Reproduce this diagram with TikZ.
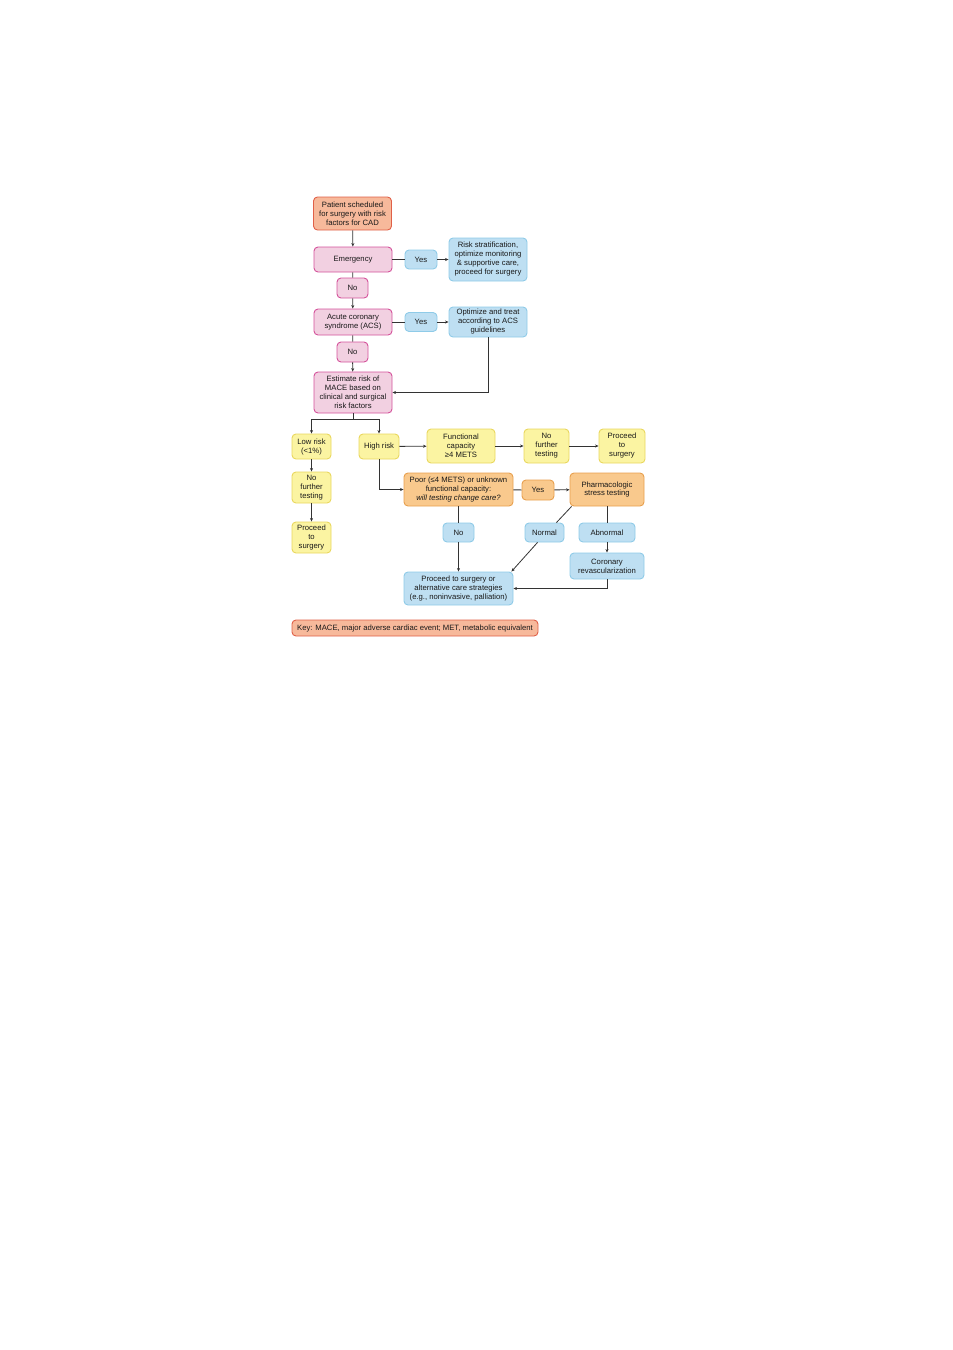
\documentclass[tikz,border=0pt]{standalone}
\usepackage{fontspec}
\setmainfont{Liberation Sans}
\usepackage{tikz}
\usetikzlibrary{arrows.meta,calc}
\definecolor{salmonfill}{HTML}{F7B99B}
\definecolor{salmonline}{HTML}{E06048}
\definecolor{pinkfill}{HTML}{F2D0E1}
\definecolor{pinkline}{HTML}{D4529B}
\definecolor{bluefill}{HTML}{BEDFF2}
\definecolor{blueline}{HTML}{8FCBE8}
\definecolor{yellowfill}{HTML}{FBF4A2}
\definecolor{yellowline}{HTML}{E9D75E}
\definecolor{orangefill}{HTML}{F9C98D}
\definecolor{orangeline}{HTML}{E8A04E}
\definecolor{linkgray}{HTML}{333333}
\tikzset{
         flowbox/.style={rectangle,rounded corners=4pt,line width=0.9pt,align=center,inner sep=0pt,
                         font=\fontsize{7.7}{9}\selectfont,text=black!90},
         salmonbox/.style={flowbox,draw=salmonline,fill=salmonfill},
         pinkbox/.style={flowbox,draw=pinkline,fill=pinkfill},
         bluebox/.style={flowbox,draw=blueline,fill=bluefill},
         yellowbox/.style={flowbox,draw=yellowline,fill=yellowfill},
         orangebox/.style={flowbox,draw=orangeline,fill=orangefill},
         link/.style={draw=linkgray,line width=0.8pt},
         >={Stealth[length=3.5pt,width=3pt]}
        }
\begin{document}
\begin{tikzpicture}[x=1pt,y=-1pt]
\useasboundingbox (0,0) rectangle (953,1350);

% top column
\node[salmonbox,minimum width=78,minimum height=33] (pat) at (352.5,213.5){Patient scheduled\\for surgery with risk\\factors for CAD};
\node[pinkbox,minimum width=78,minimum height=25] (emer) at (353,259.5){Emergency};
\node[bluebox,minimum width=32,minimum height=19] (yesa) at (421,259.5){Yes};
\node[bluebox,minimum width=78,minimum height=43] (risk) at (488,259.5){Risk stratification,\\optimize monitoring\\\& supportive care,\\proceed for surgery};
\node[pinkbox,minimum width=31,minimum height=20] (noa) at (352.5,288){No};
\node[pinkbox,minimum width=78,minimum height=26] (acs) at (353,322){Acute coronary\\syndrome (ACS)};
\node[bluebox,minimum width=32,minimum height=19] (yesb) at (421,322){Yes};
\node[bluebox,minimum width=78,minimum height=30] (opt) at (488,322){Optimize and treat\\according to ACS\\guidelines};
\node[pinkbox,minimum width=31,minimum height=20] (nob) at (352.5,352){No};
\node[pinkbox,minimum width=78,minimum height=41] (est) at (353,392.5){Estimate risk of\\MACE based on\\clinical and surgical\\risk factors};

% risk branches
\node[yellowbox,minimum width=39,minimum height=25] (low) at (311.5,446.5){Low risk\\(\textless1\%)};
\node[yellowbox,minimum width=40,minimum height=25] (high) at (379,446.5){High risk};
\node[yellowbox,minimum width=68,minimum height=34] (func) at (461,446){Functional\\capacity\\≥4 METS};
\node[yellowbox,minimum width=45,minimum height=34] (nft) at (546.5,446){No\\further\\testing};
\node[yellowbox,minimum width=46,minimum height=34] (pts) at (622,446){Proceed\\to\\surgery};
\node[yellowbox,minimum width=39,minimum height=31] (lnft) at (311.5,487.5){No\\further\\testing};
\node[yellowbox,minimum width=39,minimum height=31] (lpts) at (311.5,537.5){Proceed\\to\\surgery};

% poor capacity
\node[orangebox,minimum width=109,minimum height=33] (poor) at (458.5,489.5){Poor (≤4 METS) or unknown\\functional capacity:\\\textit{will testing change care?}};
\node[orangebox,minimum width=32,minimum height=20] (yesc) at (538,490){Yes};
\node[orangebox,minimum width=74,minimum height=33] (pharm) at (607,489.5){Pharmacologic\\stress testing};
\node[bluebox,minimum width=31,minimum height=19] (noc) at (458.5,532.5){No};
\node[bluebox,minimum width=39,minimum height=19] (norm) at (544.5,532.5){Normal};
\node[bluebox,minimum width=56,minimum height=19] (abn) at (607,532.5){Abnormal};
\node[bluebox,minimum width=74,minimum height=26] (cor) at (607,566){Coronary\\revascularization};
\node[bluebox,minimum width=109,minimum height=33] (fin) at (458.5,588.5){Proceed to surgery or\\alternative care strategies\\(e.g., noninvasive, palliation)};

\node[salmonbox,minimum width=246,minimum height=16] (key) at (415,628){Key: MACE, major adverse cardiac event; MET, metabolic equivalent};

% connectors
\draw[link,->] (pat)--(emer);
\draw[link] (emer)--(yesa);
\draw[link,->] (yesa)--(risk);
\draw[link] (emer)--(noa);
\draw[link,->] (noa)--(acs);
\draw[link] (acs)--(yesb);
\draw[link,->] (yesb)--(opt);
\draw[link] (acs)--(nob);
\draw[link,->] (nob)--(est);
\draw[link,->] (opt.south)|-(est.east);

\coordinate (split) at (353,419); %branch point
\draw[link] (est.south)--(split);
\draw[link,->] (split)-|(low.north);
\draw[link,->] (split)-|(high.north);

\draw[link,->] (low)--(lnft);
\draw[link,->] (lnft)--(lpts);
\draw[link,->] (high)--(func);
\draw[link,->] (func)--(nft);
\draw[link,->] (nft)--(pts);
\draw[link,->] (high.south)|-(poor.west);

\draw[link] (poor)--(yesc);
\draw[link,->] (yesc)--(pharm);
\draw[link] (poor)--(noc);
\draw[link,->] (noc)--(fin);
\draw[link] ([xshift=2pt]pharm.south west)--([xshift=-8pt]norm.north east);
\draw[link,->] ([xshift=-7pt]norm.south)--([xshift=-2pt]fin.north east);
\draw[link] (pharm)--(abn);
\draw[link,->] (abn)--(cor);
\draw[link,->] (cor.south)|-(fin.east);
\end{tikzpicture}
\end{document}
